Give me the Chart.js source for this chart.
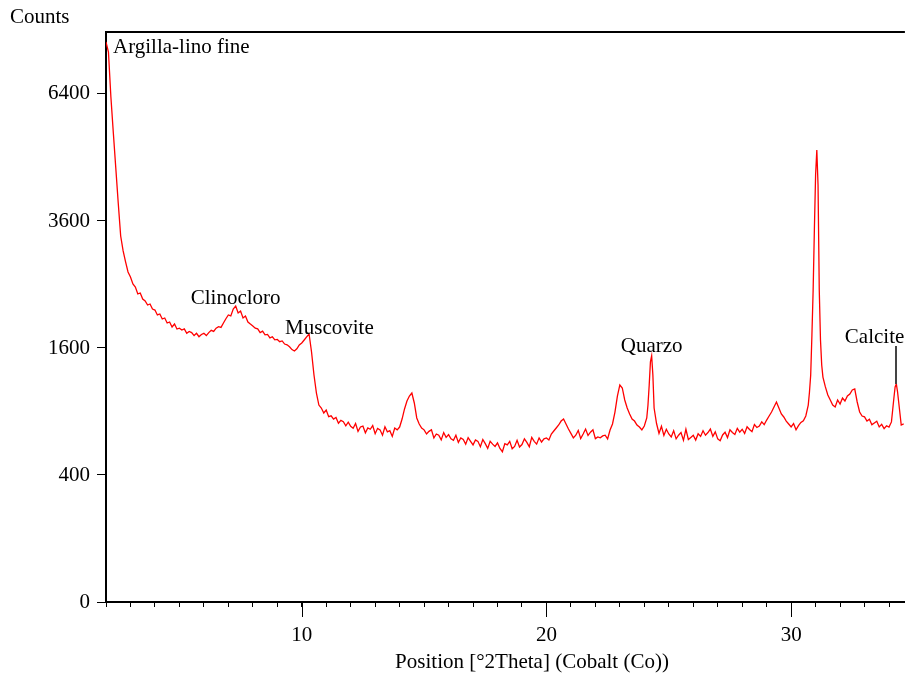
<!DOCTYPE html>
<html>
<head>
<meta charset="utf-8">
<title>Argilla-lino fine</title>
<script src="https://cdn.jsdelivr.net/npm/chart.js@4.4.1/dist/chart.umd.min.js"></script>
<style>
  html, body { margin: 0; padding: 0; background: #fff; overflow: hidden; }
  canvas { display: block; }
</style>
</head>
<body>
<canvas id="xrd" width="905" height="679"></canvas>
<script>
// Scan positions [°2Theta] and counts
const twoTheta = [
  2.0, 2.1, 2.2, 2.3, 2.4, 2.5, 2.6, 2.7, 2.8, 2.9,
  3.0, 3.1, 3.2, 3.3, 3.4, 3.5, 3.6, 3.7, 3.8, 3.9,
  4.0, 4.1, 4.2, 4.3, 4.4, 4.5, 4.6, 4.7, 4.8, 4.9,
  5.0, 5.1, 5.2, 5.3, 5.4, 5.5, 5.6, 5.7, 5.8, 5.9,
  6.0, 6.1, 6.2, 6.3, 6.4, 6.5, 6.6, 6.7, 6.8, 6.9,
  7.0, 7.1, 7.2, 7.3, 7.4, 7.5, 7.6, 7.7, 7.8, 7.9,
  8.0, 8.1, 8.2, 8.3, 8.4, 8.5, 8.6, 8.7, 8.8, 8.9,
  9.0, 9.1, 9.2, 9.3, 9.4, 9.5, 9.6, 9.7, 9.8, 9.9,
  10.0, 10.1, 10.2, 10.3, 10.4, 10.5, 10.6, 10.7, 10.8, 10.9,
  11.0, 11.1, 11.2, 11.3, 11.4, 11.5, 11.6, 11.7, 11.8, 11.9,
  12.0, 12.1, 12.2, 12.3, 12.4, 12.5, 12.6, 12.7, 12.8, 12.9,
  13.0, 13.1, 13.2, 13.3, 13.4, 13.5, 13.6, 13.7, 13.8, 13.9,
  14.0, 14.1, 14.2, 14.3, 14.4, 14.5, 14.6, 14.7, 14.8, 14.9,
  15.0, 15.1, 15.2, 15.3, 15.4, 15.5, 15.6, 15.7, 15.8, 15.9,
  16.0, 16.1, 16.2, 16.3, 16.4, 16.5, 16.6, 16.7, 16.8, 16.9,
  17.0, 17.1, 17.2, 17.3, 17.4, 17.5, 17.6, 17.7, 17.8, 17.9,
  18.0, 18.1, 18.2, 18.3, 18.4, 18.5, 18.6, 18.7, 18.8, 18.9,
  19.0, 19.1, 19.2, 19.3, 19.4, 19.5, 19.6, 19.7, 19.8, 19.9,
  20.0, 20.1, 20.2, 20.3, 20.4, 20.5, 20.6, 20.7, 20.8, 20.9,
  21.0, 21.1, 21.2, 21.3, 21.4, 21.5, 21.6, 21.7, 21.8, 21.9,
  22.0, 22.1, 22.2, 22.3, 22.4, 22.5, 22.6, 22.7, 22.8, 22.9,
  23.0, 23.1, 23.2, 23.3, 23.4, 23.5, 23.6, 23.7, 23.8, 23.9,
  24.0, 24.1, 24.15, 24.2, 24.25, 24.3, 24.35, 24.4, 24.5, 24.6, 24.7, 24.8, 24.9,
  25.0, 25.1, 25.2, 25.3, 25.4, 25.5, 25.6, 25.7, 25.8, 25.9,
  26.0, 26.1, 26.2, 26.3, 26.4, 26.5, 26.6, 26.7, 26.8, 26.9,
  27.0, 27.1, 27.2, 27.3, 27.4, 27.5, 27.6, 27.7, 27.8, 27.9,
  28.0, 28.1, 28.2, 28.3, 28.4, 28.5, 28.6, 28.7, 28.8, 28.9,
  29.0, 29.1, 29.2, 29.3, 29.4, 29.5, 29.6, 29.7, 29.8, 29.9,
  30.0, 30.1, 30.2, 30.3, 30.4, 30.5, 30.6, 30.7, 30.75, 30.8, 30.85, 30.9, 30.95,
  31.0, 31.05, 31.1, 31.15, 31.2, 31.25, 31.3, 31.4, 31.5, 31.6, 31.7, 31.8, 31.9,
  32.0, 32.1, 32.2, 32.3, 32.4, 32.5, 32.6, 32.7, 32.8, 32.9,
  33.0, 33.1, 33.2, 33.3, 33.4, 33.5, 33.6, 33.7, 33.8, 33.9,
  34.0, 34.1, 34.15, 34.2, 34.25, 34.3, 34.35, 34.4, 34.5, 34.6
];

const counts = [
  7777, 7502, 6325, 5455, 4672, 3948, 3322, 3056, 2867, 2701,
  2619, 2508, 2461, 2353, 2368, 2277, 2247, 2187, 2202, 2129,
  2114, 2043, 2057, 1986, 2000, 1930, 1944, 1876, 1916, 1848,
  1860, 1835, 1850, 1790, 1815, 1800, 1760, 1790, 1745, 1775,
  1790, 1760, 1800, 1830, 1815, 1860, 1880, 1870, 1930, 1990,
  2043, 2029, 2129, 2173, 2071, 2100, 2000, 2029, 1944, 1916,
  1890, 1860, 1850, 1800, 1820, 1770, 1775, 1730, 1745, 1705,
  1710, 1680, 1690, 1650, 1640, 1615, 1580, 1563, 1590, 1638,
  1664, 1702, 1742, 1781, 1550, 1278, 1083, 962, 933, 886,
  914, 852, 860, 830, 845, 792, 818, 806, 770, 802,
  765, 748, 790, 722, 760, 768, 710, 752, 740, 772,
  702, 748, 735, 690, 762, 718, 728, 680, 750, 735,
  759, 830, 924, 1002, 1052, 1083, 982, 840, 786, 751,
  735, 700, 722, 735, 668, 700, 690, 652, 712, 672,
  695, 660, 648, 690, 632, 668, 655, 618, 670, 640,
  612, 652, 640, 598, 655, 622, 585, 640, 618, 600,
  628, 585, 560, 622, 612, 640, 582, 600, 648, 596,
  615, 660, 632, 598, 672, 640, 618, 668, 635, 660,
  667, 651, 700, 725, 751, 777, 812, 830, 786, 742,
  705, 668, 690, 730, 662, 700, 742, 688, 715, 735,
  662, 676, 668, 684, 690, 660, 734, 786, 895, 1052,
  1168, 1136, 1012, 933, 877, 830, 812, 777, 759, 734,
  768, 840, 962, 1168, 1429, 1501, 1278, 933, 790, 705, 766, 688, 740,
  700, 675, 728, 660, 690, 712, 648, 740, 655, 672,
  690, 650, 702, 680, 728, 690, 712, 742, 680, 718,
  660, 645, 692, 715, 670, 735, 712, 696, 748, 715,
  740, 705, 762, 738, 720, 780, 755, 768, 805, 780,
  821, 858, 895, 943, 992, 933, 877, 849, 812, 786,
  760, 790, 735, 772, 800, 815, 858, 962, 1094, 1278, 1768, 2414, 3432,
  4522, 5067, 4313, 2414, 1702, 1393, 1255, 1147, 1063, 1012, 962, 943, 1012,
  972, 1032, 1002, 1052, 1073, 1115, 1125, 992, 895, 858,
  850, 812, 828, 780, 795, 810, 760, 782, 745, 770,
  759, 804, 914, 1032, 1147, 1179, 1094, 982, 777, 786
];

const countTicks = [0, 400, 1600, 3600, 6400];
const positionTicks = [10, 20, 30];
const peakNames = ['Clinocloro', 'Muscovite', 'Quarzo', 'Calcite'];
const peakPositions = [7.3, 10.3, 24.3, 34.3];

const FONT = '"Liberation Serif", "Times New Roman", serif';
const FONT_SIZE = 21;

// square-root count axis, like the instrument software
class SqrtScale extends Chart.LinearScale {
  getPixelForValue(value) {
    const lo = Math.sqrt(this.min), hi = Math.sqrt(this.max);
    return this.getPixelForDecimal((Math.sqrt(Math.max(value, 0)) - lo) / (hi - lo));
  }
  getValueForPixel(pixel) {
    const lo = Math.sqrt(this.min), hi = Math.sqrt(this.max);
    const s = lo + this.getDecimalForPixel(pixel) * (hi - lo);
    return s * s;
  }
}
SqrtScale.id = 'sqrt';
SqrtScale.defaults = {};
Chart.register(SqrtScale);

// where each peak label sits relative to its peak
const labelPlacement = [
  { align: 'center', dx: 0, dy: -2 },
  { align: 'left', dx: -24, dy: 0 },
  { align: 'center', dx: 0, dy: -4 },
  { align: 'right', dx: 8, dy: -41, leader: true }
];

const decorations = {
  id: 'decorations',
  afterDraw(chart) {
    const { ctx, chartArea: area } = chart;
    const x = chart.scales.x, y = chart.scales.y;
    ctx.save();
    ctx.strokeStyle = '#000';
    ctx.lineWidth = 2;
    ctx.beginPath();
    ctx.moveTo(area.left - 1, area.top);
    ctx.lineTo(area.right, area.top);
    ctx.stroke();

    // longer ticks at the labelled positions
    ctx.lineWidth = 1;
    positionTicks.forEach(v => {
      const px = Math.round(x.getPixelForValue(v)) + 0.5;
      ctx.beginPath();
      ctx.moveTo(px, area.bottom);
      ctx.lineTo(px, area.bottom + 15);
      ctx.stroke();
    });

    ctx.fillStyle = '#000';
    ctx.font = FONT_SIZE + 'px ' + FONT;
    ctx.textBaseline = 'alphabetic';
    ctx.textAlign = 'left';
    ctx.fillText('Counts', 10, 23);
    ctx.fillText('Argilla-lino fine', area.left + 7, 53);
    ctx.textAlign = 'center';
    ctx.fillText('Position [°2Theta] (Cobalt (Co))', 532, 668);

    peakNames.forEach((name, i) => {
      const k = twoTheta.indexOf(peakPositions[i]);
      const px = x.getPixelForValue(peakPositions[i]);
      const py = y.getPixelForValue(counts[k]);
      const p = labelPlacement[i];
      ctx.textAlign = p.align;
      ctx.fillText(name, px + p.dx, py + p.dy);
      if (p.leader) {
        ctx.strokeStyle = '#444';
        ctx.lineWidth = 2;
        ctx.beginPath();
        ctx.moveTo(Math.round(px), py + p.dy + 3);
        ctx.lineTo(Math.round(px), py);
        ctx.stroke();
      }
    });
    ctx.restore();
  }
};

new Chart(document.getElementById('xrd'), {
  type: 'line',
  data: {
    datasets: [{
      label: 'Argilla-lino fine',
      data: twoTheta.map((t, i) => ({ x: t, y: counts[i] })),
      borderColor: '#ff0000',
      borderWidth: 1.3,
      pointRadius: 0,
      tension: 0,
      fill: false
    }]
  },
  options: {
    responsive: false,
    animation: false,
    devicePixelRatio: 1,
    layout: { padding: { top: 32, left: 0, right: 0, bottom: 0 } },
    plugins: {
      legend: { display: false },
      tooltip: { enabled: false }
    },
    scales: {
      x: {
        type: 'linear',
        min: 2,
        max: 34.65,
        border: { color: '#000', width: 2 },
        grid: { drawOnChartArea: false, tickLength: 5, tickColor: '#000', tickWidth: 1 },
        ticks: {
          stepSize: 1,
          includeBounds: false,
          autoSkip: false,
          maxRotation: 0,
          minRotation: 0,
          padding: 16,
          color: '#000',
          font: { family: FONT, size: FONT_SIZE },
          callback: v => positionTicks.includes(v) ? String(v) : ''
        },
        afterFit(s) { s.height = 77; }
      },
      y: {
        type: 'sqrt',
        min: 0,
        max: 8057,
        border: { color: '#000', width: 2 },
        grid: { drawOnChartArea: false, tickLength: 9, tickColor: '#000', tickWidth: 1 },
        ticks: {
          padding: 7,
          color: '#000',
          font: { family: FONT, size: FONT_SIZE },
          callback: v => String(v)
        },
        afterBuildTicks(s) { s.ticks = countTicks.map(v => ({ value: v })); },
        afterFit(s) { s.width = 106; }
      }
    }
  },
  plugins: [decorations]
});
</script>
</body>
</html>
